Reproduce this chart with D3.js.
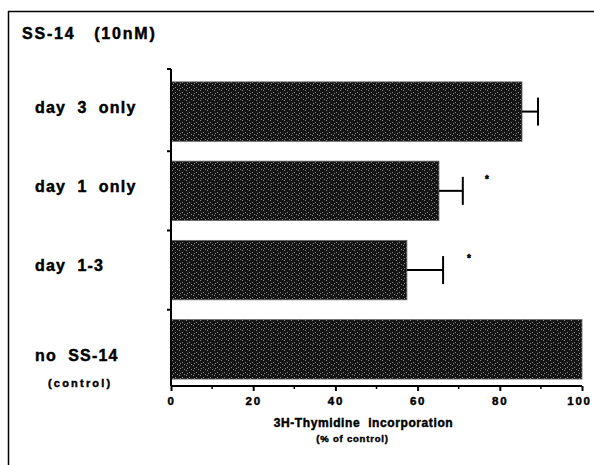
<!DOCTYPE html>
<html>
<head>
<meta charset="utf-8">
<script src="https://cdn.jsdelivr.net/npm/d3@7"></script>
<style>
  body { margin: 0; background: #fff; }
  svg text { font-family: "Liberation Sans", Arial, sans-serif; font-weight: bold; fill: #000; stroke: #000; stroke-width: 0.45px; white-space: pre; }
</style>
</head>
<body>
<script>
// data
var categories = ["day 3 only", "day 1 only", "day 1-3", "no SS-14"];
var labels = ["day  3  only", "day  1  only", "day  1-3", "no  SS-14"];
var sublabels = ["", "", "", "(control)"];
var values = [85.4, 65.2, 57.4, 100];
var errors = [3.9, 5.8, 8.8, 0];
var starAt = [null, 76.9, 72.5, null];   // position of the "*" marks, in % of control
var xTicks = [0, 20, 40, 60, 80, 100];
var xMinor = [10, 30, 50, 70, 90];

var W = 594, H = 465;
var margin = {top: 69, right: 12, bottom: 79, left: 171};
var width = W - margin.left - margin.right,
    height = H - margin.top - margin.bottom;

var svg = d3.select("body").append("svg")
    .attr("width", W)
    .attr("height", H);

// frame, only top and left edges show
svg.append("line").attr("x1", 8).attr("x2", W).attr("y1", 11.5).attr("y2", 11.5)
    .attr("stroke", "#000").attr("stroke-width", 1.5);
svg.append("line").attr("x1", 8.5).attr("x2", 8.5).attr("y1", 11).attr("y2", H)
    .attr("stroke", "#000").attr("stroke-width", 1.5);

// stippled bar fill
var defs = svg.append("defs");
var pat = defs.append("pattern").attr("id", "stip")
    .attr("patternUnits", "userSpaceOnUse").attr("width", 7).attr("height", 5);
pat.append("rect").attr("width", 7).attr("height", 5).attr("fill", "#141414");
[[1, 1], [4, 3], [6, 0], [2, 4]].forEach(function(p) {
    pat.append("rect").attr("x", p[0]).attr("y", p[1]).attr("width", 1).attr("height", 1).attr("fill", "#8a8a8a");
});

svg.append("text").attr("x", 22).attr("y", 39).style("font-size", "16px")
    .style("letter-spacing", "1.8px").text("SS-14   (10nM)");

var g = svg.append("g").attr("transform", "translate(" + margin.left + "," + margin.top + ")");

var x = d3.scaleLinear().domain([0, 100]).range([0, width]);
var y = d3.scaleBand().domain(categories).range([0, height])
    .paddingInner(0.25).paddingOuter(0.125).align(0.65);

// bars
g.selectAll(".bar").data(categories).enter().append("rect")
    .attr("class", "bar")
    .attr("x", 0)
    .attr("y", function(d) { return y(d); })
    .attr("width", function(d, i) { return x(values[i]); })
    .attr("height", y.bandwidth())
    .attr("fill", "url(#stip)")
    .attr("stroke", "#666").attr("stroke-width", 0.8);

// error bars
var cap = 28;
categories.forEach(function(c, i) {
    if (!errors[i]) return;
    var cy = y(c) + y.bandwidth() / 2;
    g.append("line").attr("x1", x(values[i])).attr("x2", x(values[i] + errors[i]))
        .attr("y1", cy).attr("y2", cy).attr("stroke", "#000").attr("stroke-width", 2);
    g.append("line").attr("x1", x(values[i] + errors[i])).attr("x2", x(values[i] + errors[i]))
        .attr("y1", cy - cap / 2).attr("y2", cy + cap / 2).attr("stroke", "#000").attr("stroke-width", 2);
    if (starAt[i] != null) {
        g.append("text").attr("x", x(starAt[i])).attr("y", cy - 8)
            .attr("text-anchor", "middle").style("font-size", "10px").text("*");
    }
});

// y axis: line with separator ticks between bars
g.append("line").attr("x1", 0).attr("x2", 0).attr("y1", 0).attr("y2", height)
    .attr("stroke", "#000").attr("stroke-width", 2);
var sep = [0].concat(categories.slice(1).map(function(c) { return y(c) - y.step() * y.paddingInner() / 2; }));
g.selectAll(".ysep").data(sep).enter().append("line")
    .attr("x1", -4).attr("x2", 0)
    .attr("y1", function(d) { return d; }).attr("y2", function(d) { return d; })
    .attr("stroke", "#000").attr("stroke-width", 2);

// category labels
categories.forEach(function(c, i) {
    var cy = y(c) + y.bandwidth() / 2;
    var t = g.append("text").attr("x", 35 - margin.left)
        .style("font-size", "16px").style("letter-spacing", "1.2px").text(labels[i]);
    if (sublabels[i]) {
        t.attr("y", cy + 12);
        g.append("text").attr("x", 48 - margin.left).attr("y", cy + 38)
            .style("font-size", "11px").style("letter-spacing", "2.2px").text(sublabels[i]);
    } else {
        t.attr("y", cy + 1);
    }
});

// x axis
var xAxis = d3.axisBottom(x).tickValues(xTicks).tickSize(5).tickPadding(6);
var ax = g.append("g").attr("transform", "translate(0," + height + ")").call(xAxis);
ax.select(".domain").remove();
ax.append("line").attr("x1", 0).attr("x2", width).attr("stroke", "#000").attr("stroke-width", 2);
ax.selectAll(".tick line").attr("stroke", "#000").attr("stroke-width", 2);
ax.selectAll(".tick text").attr("fill", "#000")
    .style("font-family", "'Liberation Sans', Arial, sans-serif")
    .style("font-weight", "bold").style("font-size", "11.5px").style("letter-spacing", "1.8px")
    .attr("dx", function(d) { return d === 100 ? -3 : 0; });
ax.selectAll(".minor").data(xMinor).enter().append("line")
    .attr("x1", function(d) { return x(d); }).attr("x2", function(d) { return x(d); })
    .attr("y1", 0).attr("y2", 3).attr("stroke", "#000").attr("stroke-width", 1.5);
ax.append("line").attr("x1", 0).attr("x2", 0).attr("y1", -4).attr("y2", 0).attr("stroke", "#000").attr("stroke-width", 2);

g.append("text").attr("x", width / 2 - 13).attr("y", height + 41)
    .attr("text-anchor", "middle").style("font-size", "12px").style("letter-spacing", "0.6px")
    .text("3H-Thymidine  incorporation");
g.append("text").attr("x", width / 2 - 24).attr("y", height + 56)
    .attr("text-anchor", "middle").style("font-size", "9.5px").style("letter-spacing", "0.8px")
    .text("(% of control)");
</script>
</body>
</html>
